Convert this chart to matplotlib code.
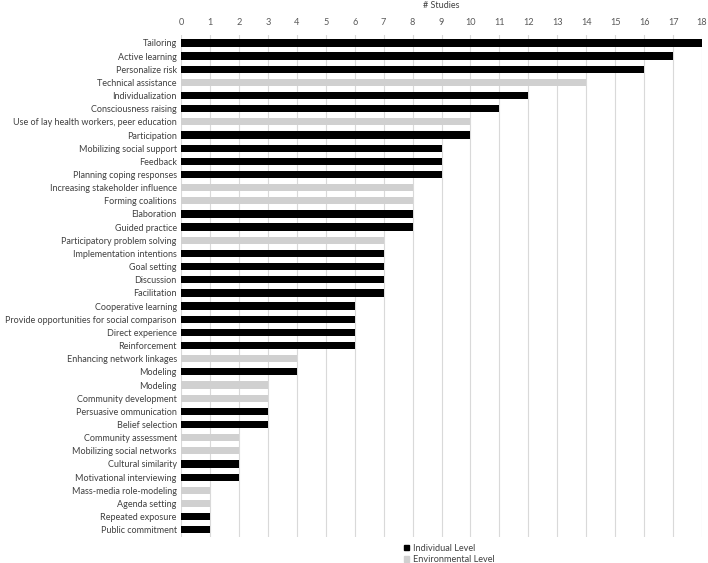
import matplotlib.pyplot as plt
from matplotlib.patches import Patch
import numpy as np

plt.rcParams['font.family'] = ['Lato', 'DejaVu Sans']

# categories top to bottom
methods = [
    "Tailoring", "Active learning", "Personalize risk", "Technical assistance",
    "Individualization", "Consciousness raising",
    "Use of lay health workers, peer education", "Participation",
    "Mobilizing social support", "Feedback", "Planning coping responses",
    "Increasing stakeholder influence", "Forming coalitions", "Elaboration",
    "Guided practice", "Participatory problem solving",
    "Implementation intentions", "Goal setting", "Discussion", "Facilitation",
    "Cooperative learning", "Provide opportunities for social comparison",
    "Direct experience", "Reinforcement", "Enhancing network linkages",
    "Modeling", "Modeling", "Community development", "Persuasive ommunication",
    "Belief selection", "Community assessment", "Mobilizing social networks",
    "Cultural similarity", "Motivational interviewing",
    "Mass-media role-modeling", "Agenda setting", "Repeated exposure",
    "Public commitment",
]
individual = [18, 17, 16, 0, 12, 11, 0, 10, 9, 9, 9, 0, 0, 8, 8, 0, 7, 7, 7, 7,
              6, 6, 6, 6, 0, 4, 0, 0, 3, 3, 0, 0, 2, 2, 0, 0, 1, 1]
environmental = [0, 0, 0, 14, 0, 0, 10, 0, 0, 0, 0, 8, 8, 0, 0, 7, 0, 0, 0, 0,
                 0, 0, 0, 0, 4, 0, 3, 3, 0, 0, 2, 2, 0, 0, 1, 1, 0, 0]
xticks = list(range(0, 19))

fig = plt.figure(figsize=(7.08, 5.63), dpi=100)
ax = fig.add_axes([181 / 708, 1 - 537 / 563, 521 / 708, 502 / 563])

y = np.arange(len(methods))
ax.barh(y, individual, height=0.55, color='#000000', zorder=3)
ax.barh(y, environmental, height=0.55, color='#d0d0d0', zorder=3)

ax.set_xlim(0, 18)
ax.set_ylim(len(methods) - 0.45, -0.6)
ax.set_yticks(y)
ax.set_yticklabels(methods, fontsize=6.5, color='#404040')
ax.set_xticks(xticks)
ax.xaxis.tick_top()
ax.xaxis.set_label_position('top')
ax.tick_params(axis='x', labelsize=6.6, colors='#595959', length=0, pad=6)
ax.tick_params(axis='y', length=0, pad=3)
ax.set_xlabel('# Studies', fontsize=6.5, color='#404040', labelpad=7)
ax.grid(axis='x', color='#d9d9d9', lw=0.8, zorder=0)
for s in ax.spines.values():
    s.set_visible(False)

handles = [Patch(color='#000000', label='Individual Level'),
           Patch(color='#d0d0d0', label='Environmental Level')]
fig.legend(handles=handles, loc='upper left', bbox_to_anchor=(399 / 708, 1 - 539 / 563),
           frameon=False, fontsize=6.6, handlelength=0.55, handleheight=0.55,
           handletextpad=0.5, labelspacing=0.3, borderpad=0, labelcolor='#404040')

fig.savefig('out.png', dpi=100)
